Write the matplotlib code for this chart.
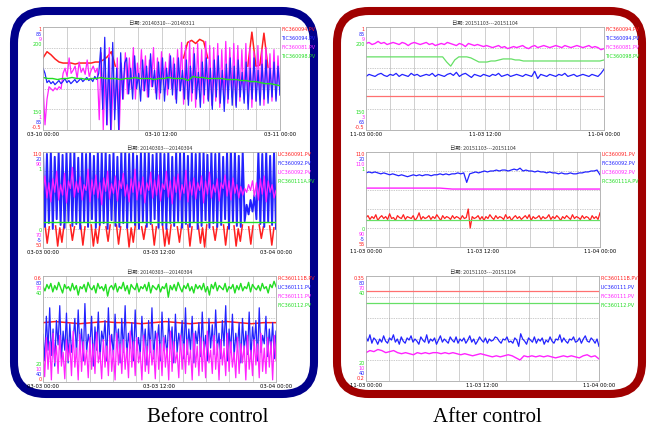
import numpy as np
import matplotlib
matplotlib.use("Agg")
import matplotlib.pyplot as plt
from matplotlib.patches import FancyBboxPatch

plt.rcParams['font.family'] = ['DejaVu Sans']
CJK = ['Noto Sans CJK SC', 'DejaVu Sans']

ROJO, AZUL, MAGENTA, VERDE = '#ff2020', '#2222ff', '#ff22ff', '#22dd22'
ROJO_SUAVE, VERDE_SUAVE = '#ff7070', '#66e066'

# ── Datos (valores normalizados en % de la altura de cada panel; None = no visible) ──

# Antes del control — panel 1
antes1_titulo = "日期: 20140310---20140311"
antes1_fechas = ["03-10 00:00", "03-10 12:00", "03-11 00:00"]
antes1_etiquetas = ["FIC360094.PV", "TIC360094.PV", "FIC360081.PV", "TIC360098.PV"]
antes1_arriba = ["1", "85", "9", "200"]
antes1_abajo = ["150", "1", "85", "-0.5"]
antes1_rojo = [70, 76, 73, 69, 66, 65, 65, 65, 64, 65, 65, 65, 65, 66, 66, 68, 71, 76, 62, None,
               None, None, None, None, None, None, None, None, None, None, None, None, None, None,
               None, 70, 85, 87, 84, 88, 86, 70, None, None, None, None, None, None, None, None,
               None, 62, 95, 62, 63, 94, 61, None, None, None]
antes1_azul = [60, 55, 46, 48, 45, 47, 44, 46, 48, 45, 47, 50, 46, 48, 45, 47, 49, 46, 48, 50,
               47, 49, 51, 48, 50, 47, 52, 49, 55,
               80, 20, 90, 5, 70, 0, 85, 10, 60, 0, 75, 30, 65,
               70, 35, 60, 30, 72, 40, 55, 28, 68, 38, 62, 32, 74, 42, 58, 30, 66, 36, 70, 28,
               60, 40, 72, 34, 64, 26, 70, 38, 58, 30, 68, 24, 62, 36, 74, 30, 56, 22, 66, 34,
               70, 28, 60, 20, 68, 32, 72, 26, 58, 18, 64, 30, 70, 24, 62, 22, 68, 32, 56, 26,
               66, 20, 60, 30, 70, 28, 58, 24, 64, 30, 68, 26, 60, 32, 66, 28, 62, 34]
antes1_magenta = [45, 5, 30, 42, 40, 38, 41, 39, 42, 40,
                  55, 60, 52, 70, 55, 58, 62, 50, 66, 56, 60, 54, 68, 52, 58, 62, 56, 60,
                  10, 75, 0, 60, 5, 80, 0, 50, 20, 70, 0, 65, 30,
                  75, 35, 70, 40, 80, 30, 65, 45, 78, 38, 72, 32, 68, 42, 80, 36, 70, 30, 76, 44,
                  66, 34, 74, 40, 70, 30, 78, 38,
                  85, 25, 82, 30, 86, 28, 80, 22, 84, 32, 78, 26, 86, 30, 82, 24, 80, 28, 84, 22,
                  78, 30, 86, 26, 80, 32, 84, 24, 82, 28, 78, 30, 84, 26, 80, 22, 76, 28, 82, 30,
                  78, 24, 80, 32, 74, 28, 78, 30, 72, 34]
antes1_verde = [51, 50, 50, 49, 50, 50, 51, 50, 50, 49, 50, 50, 51, 50, 50, 50, 49, 50, 50, 51,
                50, 50, 50, 49, 50, 50, 51, 50, 50, 50, 48, 52, 51, 51, 50, 50, 50, 50, 49, 49,
                49, 48, 48, 47, 47, 46, 45, 45, 44, 43]

# Antes del control — panel 2
antes2_titulo = "日期: 20140303---20140304"
antes2_fechas = ["03-03 00:00", "03-03 12:00", "03-04 00:00"]
antes2_etiquetas = ["LIC360091.PV", "FIC360092.PV", "LIC360092.PV", "PIC360111A.PV"]
antes2_arriba = ["110", "20", "90", "1"]
antes2_abajo = ["0", "70", "-5", "50"]
antes2_rojo = [None, 24, 5, 22, None, None, 23, 2, 21, 6, 24, None, None, 24, 8, 22, None,
               None, 23, 3, 22, None, None, 24, 2, 20, 5, 23, None, None, 22, 7, 24, None,
               None, 24, 4, 22, None, None, 23, 1, 21, 6, 24, None, None, 22, 9, 23, None,
               None, 24, 3, 22, None, None, 23, 2, 20, 4, 24, None, None, 22, 6, 23, None,
               None, 24, 2, 22, None, None, 23, 5, 21, 1, 24, None, None, 22, 8, 23, None,
               None, 24, 3, 22, None, None, 23, 2, 20, 7, 24, None, None, 22, 4, 23, None,
               None, 24, 10, 22, None, None, 23, 3, 21, None]
antes2_azul = [100, 22, 98, 26, 100, 20, 95, 30, 100, 24, 97, 21, 100, 28, 99, 23, 100, 25, 94, 20,
               100, 27, 98, 22, 100, 30, 96, 21, 100, 24, 99, 26, 100, 20, 97, 29, 100, 23, 95, 22,
               100, 26, 100, 21, 98, 28, 100, 24, 96, 20, 100, 27, 99, 22, 100, 25, 97, 30, 100, 21,
               100, 24, 98, 20, 100, 26, 95, 23, 100, 28, 99, 21, 100, 25, 96, 22, 100, 27, 98, 20,
               100, 23, 100, 29, 97, 21, 100, 26, 98, 22, 100, 24, 95, 30, 100, 20, 99, 27, 100, 23,
               96, 22, 100, 28, 45, 35, 50, 38, 55, 30, 100, 25, 98, 22, 100, 27, 96, 24, 100, 20]
antes2_magenta = [60, 75, 52, 68, 48, 72, 58, 80, 50, 66, 55, 78, 47, 70, 62, 84, 53, 69, 58, 74,
                  50, 66, 60, 82, 48, 71, 56, 76, 52, 68, 45, 73, 59, 80, 51, 67, 57, 75, 49, 70,
                  62, 78, 54, 66, 48, 72, 58, 82, 50, 69, 56, 74, 47, 68, 60, 79, 52, 71, 55, 76,
                  49, 67, 61, 80, 53, 70, 46, 74, 58, 77, 50, 66, 57, 81, 48, 69, 55, 73, 51, 68,
                  60, 75, 47, 70, 56, 79, 52, 66, 58, 72, 49, 68, 62, 76, 54, 70, 50, 73, 57, 66,
                  52, 64, 55, 62, 58, 66, 60, 70, 54, 68, 50, 72, 56, 75, 48, 70, 58, 66, 52, 60]
antes2_verde = [27, 27, 27, 27, 27, 27, 27, 27, 27, 27]

# Antes del control — panel 3
antes3_titulo = "日期: 20140303---20140304"
antes3_fechas = ["03-03 00:00", "03-03 12:00", "03-04 00:00"]
antes3_etiquetas = ["PIC360111B.PV", "LIC360111.PV", "FIC360111.PV", "FIC360112.PV"]
antes3_arriba = ["0.6", "80", "70", "40"]
antes3_abajo = ["20", "10", "40", "0"]
antes3_rojo = [56, 57, 56, 55, 56, 57, 56, 56, 55, 56, 57, 56, 55, 56, 56, 57, 56, 55, 56, 56]
antes3_azul = [45, 20, 62, 30, 70, 25, 50, 15, 58, 35, 72, 22, 48, 30, 65, 18, 55, 28, 40, 60,
               25, 68, 32, 50, 20, 74, 28, 45, 35, 62, 15, 52, 30, 66, 22, 48, 38, 58, 20, 70,
               30, 45, 25, 64, 35, 50, 18, 60, 28, 72, 24, 46, 32, 56, 20, 68, 30, 42, 26, 62,
               34, 50, 16, 58, 28, 70, 22, 48, 36, 54, 20, 66, 30, 44, 24, 60, 32, 52, 18, 64,
               28, 46, 34, 58, 22, 70, 26, 50, 30, 62, 18, 48, 36, 56, 24, 66, 28, 44, 20, 60,
               32, 54, 26, 68, 30, 46, 22, 58, 34, 72, 20, 50, 28, 64, 24, 46, 32, 56, 18, 60,
               30, 48, 26, 66, 22, 52, 34, 58, 20, 70, 28, 44, 36, 62, 24, 50, 30, 56, 22, 48]
antes3_magenta = [30, 5, 42, 12, 38, 2, 46, 18, 34, 8, 44, 15, 28, 3, 40, 20, 36, 6, 48, 14,
                  32, 2, 45, 10, 38, 16, 30, 4, 42, 12, 36, 8, 47, 18, 28, 3, 40, 14, 34, 6,
                  44, 10, 30, 2, 46, 16, 36, 8, 40, 12, 32, 4, 48, 14, 38, 6, 42, 18, 28, 2,
                  44, 10, 34, 8, 40, 16, 30, 3, 46, 12, 36, 6, 42, 14, 32, 2, 48, 10, 38, 18,
                  28, 4, 44, 12, 36, 8, 40, 16, 30, 2, 46, 14, 34, 6, 42, 10, 38, 4, 48, 18,
                  30, 8, 44, 12, 36, 2, 40, 16, 32, 6, 46, 10, 38, 14, 28, 4, 42, 8, 36, 18,
                  34, 2, 44, 12, 30, 6, 40, 16, 36, 4, 46, 10, 32, 8, 42, 14, 38, 2, 44, 20]
antes3_verde = [90, 86, 92, 88, 93, 85, 91, 87, 94, 89, 84, 92, 88, 90, 86, 93, 87, 91, 82, 90,
                88, 92, 85, 94, 89, 87, 91, 84, 93, 88, 90, 86, 92, 81, 89, 91, 87, 93, 85, 90,
                88, 94, 86, 91, 83, 92, 89, 87, 93, 85, 90, 88, 92, 86, 94, 84, 91, 89, 87, 92,
                85, 90, 88, 93, 80, 91, 87, 92, 86, 94, 89, 85, 91, 88, 93, 86, 90, 84, 92, 88,
                91, 87, 93, 85, 90, 82, 92, 88, 94, 86, 91, 89, 87, 93, 85, 90, 88, 92, 84, 91,
                87, 93, 86, 90, 88, 94, 85, 92, 89, 87, 91, 86, 93, 88, 90, 84, 92, 89, 95, 90]

# Después del control — panel 1
desp1_titulo = "日期: 20151103---20151104"
desp1_fechas = ["11-03 00:00", "11-03 12:00", "11-04 00:00"]
desp1_etiquetas = ["FIC360094.PV", "TIC360094.PV", "FIC360081.PV", "TIC360098.PV"]
desp1_arriba = ["1", "85", "9", "200"]
desp1_abajo = ["150", "3", "65", "-0.5"]
desp1_rojo = [33, 33]
desp1_azul = [52, 54, 53, 52, 54, 55, 53, 52, 54, 53, 55, 52, 54, 53, 52, 55, 53, 54, 52, 53,
              54, 53, 55, 52, 54, 53, 52, 54, 55, 53, 56, 52, 54, 55, 53, 51, 54, 53, 52, 54,
              53, 52, 54, 53, 55, 52, 53, 54, 52, 53, 54, 53, 52, 54, 53, 52, 57, 50, 54, 53,
              52, 54, 53, 52, 54, 53, 55, 52, 53, 54, 52, 53, 54, 53, 52, 54, 53, 52, 55, 59]
desp1_magenta = [84, 85, 83, 84, 86, 84, 85, 83, 84, 85, 84, 83, 85, 84, 82, 84, 85, 84, 83, 84,
                 85, 83, 84, 82, 83, 84, 83, 85, 84, 83, 82, 84, 83, 81, 84, 83, 82, 83, 82, 81,
                 82, 81, 80, 81, 82, 80, 81, 79, 80, 81, 80, 81, 82, 80, 79, 81, 82, 80, 81, 82,
                 81, 80, 81, 82, 81, 80, 82, 81, 80, 81, 82, 81, 80, 81, 82, 80, 81, 80, 78, 79]
desp1_verde = [71, 71, 71, 71, 71, 71, 71, 71, 71, 71, 71, 71, 71, 71, 71, 71, 71, 71, 71, 71,
               66, 62, 68, 71, 71, 71, 70, 68, 66, 66, 66, 67, 67, 68, 69, 69, 69, 68, 68, 67,
               67, 67, 67, 67, 67, 67, 67, 67, 67, 67, 67, 67, 67, 67, 67, 67, 67, 67, 67, 68]

# Después del control — panel 2
desp2_titulo = "日期: 20151103---20151104"
desp2_fechas = ["11-03 00:00", "11-03 12:00", "11-04 00:00"]
desp2_etiquetas = ["LIC360091.PV", "FIC360092.PV", "LIC360092.PV", "PIC360111A.PV"]
desp2_arriba = ["110", "20", "110", "1"]
desp2_abajo = ["0", "90", "-5", "55"]
desp2_rojo = [31, 33, 29, 32, 30, 34, 28, 31, 33, 30, 32, 29, 35, 30, 31, 28, 33, 31, 30, 34,
              29, 32, 31, 30, 33, 28, 31, 36, 29, 32, 30, 31, 33, 29, 32, 30, 34, 31, 28, 33,
              30, 32, 31, 29, 33, 30, 32, 31, 29, 33, 30, 31, 40, 20, 32, 30, 31, 33, 29, 32,
              28, 32, 30, 34, 31, 29, 33, 30, 32, 31, 29, 34, 30, 32, 28, 31, 33, 30, 32, 29,
              31, 33, 30, 34, 28, 32, 30, 31, 33, 29, 32, 30, 31, 34, 29, 32, 30, 33, 31, 28,
              32, 30, 33, 31, 29, 34, 30, 32, 31, 29, 33, 30, 32, 31, 28, 33, 30, 32, 29, 36]
desp2_azul = [78, 79, 78, 79, 78, 77, 78, 77, 76, 77, 76, 75, 76, 75, 74, 75, 76, 75, 76, 75,
              76, 76, 75, 76, 76, 77, 76, 77, 76, 77, 77, 78, 77, 78, 68, 77, 78, 79, 78, 79,
              80, 79, 80, 80, 81, 80, 81, 81, 80, 81, 82, 81, 83, 80, 81, 80, 80, 79, 80, 79,
              79, 78, 79, 78, 78, 77, 78, 77, 77, 78, 77, 77, 78, 78, 79, 79, 80, 80, 81, 76]
desp2_magenta = [62, 62, 62, 62, 62, 62, 62, 61, 61, 61, 61, 61, 61, 61, 61, 61, 61, 61, 61, 61]
desp2_verde = [28, 28]

# Después del control — panel 3
desp3_titulo = "日期: 20151103---20151104"
desp3_fechas = ["11-03 00:00", "11-03 12:00", "11-04 00:00"]
desp3_etiquetas = ["PIC360111B.PV", "LIC360111.PV", "FIC360111.PV", "FIC360112.PV"]
desp3_arriba = ["0.35", "80", "70", "40"]
desp3_abajo = ["20", "10", "40", "0.2"]
desp3_rojo = [86, 86]
desp3_azul = [42, 38, 44, 36, 41, 39, 35, 40, 37, 43, 38, 36, 41, 39, 44, 37, 40, 35, 42, 38,
              36, 41, 39, 43, 37, 40, 38, 35, 42, 39, 37, 44, 36, 40, 38, 41, 35, 39, 43, 37,
              40, 38, 36, 42, 39, 37, 42, 36, 40, 38, 41, 36, 39, 43, 37, 40, 35, 38, 42, 39,
              37, 41, 36, 40, 38, 39, 42, 41, 38, 36, 40, 39, 42, 37, 38, 36, 41, 39, 33, 45,
              40, 38, 35, 41, 39, 37, 42, 36, 40, 38, 41, 35, 39, 37, 42, 38, 36, 40, 39, 44,
              37, 41, 38, 36, 40, 39, 42, 37, 38, 41, 36, 40, 43, 38, 37, 41, 39, 36, 40, 33]
desp3_magenta = [27, 29, 28, 30, 29, 27, 28, 29, 27, 26, 27, 26, 25, 27, 26, 27, 26, 27, 27, 26,
                 27, 26, 27, 26, 25, 26, 25, 24, 25, 26, 25, 24, 23, 24, 23, 24, 25, 24, 22, 20,
                 24, 23, 24, 23, 24, 23, 24, 23, 22, 23, 24, 23, 24, 23, 22, 24, 25, 23, 24, 21]
desp3_verde = [74, 74]


def px(x0, y0, x1, y1):
    """Rectángulo en píxeles (origen arriba a la izquierda) -> fracción de figura."""
    return [x0 / 652, 1 - y1 / 430, (x1 - x0) / 652, (y1 - y0) / 430]


def serie(valores):
    return np.array([np.nan if v is None else v for v in valores], dtype=float) / 100


def panel(fig, caja, titulo, fechas, etiquetas, arriba, abajo,
          rojo, azul, magenta, verde, ruidoso, magenta_abajo=False, lw_azul=0.9):
    ax = fig.add_axes(caja, zorder=2)
    ax.set_xlim(0, 24)
    ax.set_ylim(0, 1)
    for h in np.arange(2.4, 24, 2.4):
        ax.axvline(h, color='#cfcfcf', lw=0.7, zorder=0)
    for f in (0.2, 0.4, 0.6, 0.8):
        ax.axhline(f, color='#999999', lw=0.5, ls=(0, (1, 1.5)), zorder=0)

    if ruidoso:
        estilos = [(rojo, ROJO, 1.1), (azul, AZUL, lw_azul), (magenta, MAGENTA, 0.9),
                   (verde, VERDE, 1.0)]
        if magenta_abajo:
            estilos[1], estilos[2] = estilos[2], estilos[1]
    else:
        estilos = [(rojo, ROJO_SUAVE if len(rojo) < 5 else ROJO, 0.9), (azul, AZUL, 0.9),
                   (magenta, MAGENTA, 1.0), (verde, VERDE_SUAVE, 0.9)]
    for valores, color, lw in estilos:
        v = serie(valores)
        ax.plot(np.linspace(0, 24, len(v)), v, color=color, lw=lw, zorder=2)

    ax.set_xticks([0, 12, 24])
    ax.set_xticklabels(fechas, fontsize=3.8)
    ax.tick_params(axis='x', length=0, pad=1.5)
    ax.set_yticks([])
    for s in ax.spines.values():
        s.set_color('#aaaaaa')
        s.set_linewidth(0.6)
    ax.set_title(titulo, fontsize=3.8, pad=1.5, family=CJK, color='#333333')

    colores = [ROJO, AZUL, MAGENTA, VERDE]
    for k, (t, c) in enumerate(zip(arriba, colores)):
        ax.annotate(t, xy=(0, 1), xycoords='axes fraction', xytext=(-1, -k * 3.7),
                    textcoords='offset points', ha='right', va='top', fontsize=3.5, color=c)
    for k, (t, c) in enumerate(zip(abajo, colores[::-1])):
        ax.annotate(t, xy=(0, 0), xycoords='axes fraction', xytext=(-1, (3 - k) * 3.7),
                    textcoords='offset points', ha='right', va='bottom', fontsize=3.5, color=c)
    for k, (t, c) in enumerate(zip(etiquetas, colores)):
        ax.annotate(t, xy=(1, 1), xycoords='axes fraction', xytext=(1, -k * 6.5),
                    textcoords='offset points', ha='left', va='top', fontsize=3.5, color=c)
    return ax


fig = plt.figure(figsize=(6.52, 4.30), dpi=100)

fondo = fig.add_axes([0, 0, 1, 1], zorder=0)
fondo.set_xlim(0, 652)
fondo.set_ylim(430, 0)
fondo.axis('off')
fondo.add_patch(FancyBboxPatch((14, 11), 300, 383, boxstyle='round,pad=0,rounding_size=32',
                               lw=5.8, ec='#00008b', fc='white'))
fondo.add_patch(FancyBboxPatch((337, 11), 305, 383, boxstyle='round,pad=0,rounding_size=32',
                               lw=5.8, ec='#a00000', fc='white'))
fondo.text(208, 417, "Before control", ha='center', va='center', fontsize=15,
           family='Liberation Serif')
fondo.text(487, 417, "After control", ha='center', va='center', fontsize=15,
           family='Liberation Serif')

panel(fig, px(43, 27, 280, 130), antes1_titulo, antes1_fechas, antes1_etiquetas,
      antes1_arriba, antes1_abajo, antes1_rojo, antes1_azul, antes1_magenta, antes1_verde, True,
      magenta_abajo=True)
panel(fig, px(43, 152, 276, 248), antes2_titulo, antes2_fechas, antes2_etiquetas,
      antes2_arriba, antes2_abajo, antes2_rojo, antes2_azul, antes2_magenta, antes2_verde, True,
      lw_azul=1.4)
panel(fig, px(43, 276, 276, 382), antes3_titulo, antes3_fechas, antes3_etiquetas,
      antes3_arriba, antes3_abajo, antes3_rojo, antes3_azul, antes3_magenta, antes3_verde, True)
panel(fig, px(366, 27, 604, 130), desp1_titulo, desp1_fechas, desp1_etiquetas,
      desp1_arriba, desp1_abajo, desp1_rojo, desp1_azul, desp1_magenta, desp1_verde, False)
panel(fig, px(366, 152, 600, 247), desp2_titulo, desp2_fechas, desp2_etiquetas,
      desp2_arriba, desp2_abajo, desp2_rojo, desp2_azul, desp2_magenta, desp2_verde, False)
panel(fig, px(366, 276, 599, 381), desp3_titulo, desp3_fechas, desp3_etiquetas,
      desp3_arriba, desp3_abajo, desp3_rojo, desp3_azul, desp3_magenta, desp3_verde, False)

fig.savefig("out.png", dpi=100)
